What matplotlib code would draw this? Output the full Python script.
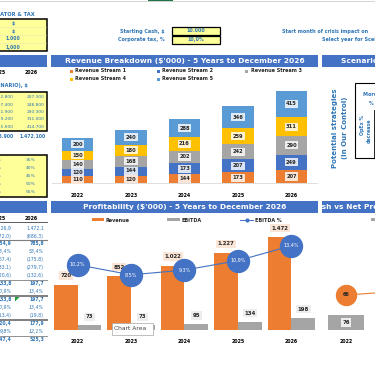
import numpy as np
import matplotlib.pyplot as plt
from matplotlib.patches import Rectangle, Polygon
from matplotlib.lines import Line2D

# ---- data ----
years = ['2022', '2023', '2024', '2025', '2026']
stream_names = ['Revenue Stream 1', 'Revenue Stream 2', 'Revenue Stream 3',
                'Revenue Stream 4', 'Revenue Stream 5']
stream1 = [110, 120, 144, 173, 207]
stream2 = [120, 144, 173, 207, 249]
stream3 = [140, 168, 202, 242, 290]
stream4 = [150, 180, 216, 259, 311]
stream5 = [200, 240, 288, 346, 415]

revenue = [720, 852, 1022, 1227, 1472]
revenue_lbl = ['720', '852', '1.022', '1.227', '1.472']
ebitda = [73, 73, 95, 134, 198]
ebitda_pct = [10.2, 8.5, 9.3, 10.9, 13.4]

cash_years = ['2022', '2023']
net_profit = [76]
cash = [66, 73]  # 2nd point is off-screen, only the line to it shows

rev_2025 = ['172.800', '207.400', '241.900', '259.200', '345.600']
rev_2026 = ['207.300', '248.800', '290.300', '311.000', '414.700']
rev_tot = ['1.226.900', '1.472.100']
pct_2025 = ['30%', '35%', '40%', '45%', '50%']
pct_2026 = ['35%', '40%', '45%', '50%', '55%']

pl_2025 = ['1.226,9', '(572,0)', '654,9', '53,4%', '(167,4)', '(233,1)', '(120,6)',
           '133,8', '10,9%', '133,8', '10,9%', '(13,4)', '120,4', '9,8%', '347,4']
pl_2026 = ['1.472,1', '(686,3)', '785,8', '53,4%', '(175,8)', '(279,7)', '(132,6)',
           '197,7', '13,4%', '197,7', '13,4%', '(19,8)', '177,9', '12,1%', '525,3']
pl_style = ['n', 'n', 'b', 'i', 'n', 'n', 'n', 'b', 'i', 'b', 'i', 'n', 'b', 'i', 'b']

# ---- colours ----
ORANGE, BLUE, GRAY, GOLD, LBLUE = '#ED7D31', '#4472C4', '#A5A5A5', '#FFC000', '#5B9BD5'
LBL_BG = ['#FBE5D6', '#DAE3F3', '#EDEDED', '#FFF2CC', '#DEEBF7']
HEAD = '#4472C4'
TXT = '#2E75B6'
YEL = '#FFFF99'
DARK = '#262626'

W, H = 375, 366
fig = plt.figure(figsize=(W / 100, H / 100), dpi=100)


def fx(x):
    return x / W


def fy(y):
    return 1 - y / H


def text(x, y, s, ha='left', size=3.5, color=TXT, weight='bold', style='normal', **kw):
    return fig.text(fx(x), fy(y), s, ha=ha, va='center', fontsize=size, color=color,
                    fontweight=weight, fontstyle=style, **kw)


def rect(x0, y0, x1, y1, fc, ec='none', lw=0, z=1):
    fig.add_artist(Rectangle((fx(x0), fy(y1)), (x1 - x0) / W, (y1 - y0) / H,
                             transform=fig.transFigure, fc=fc, ec=ec, lw=lw, zorder=z))


def line(x0, x1, y0, y1, color, lw, z=2):
    fig.add_artist(Line2D([fx(x0), fx(x1)], [fy(y0), fy(y1)], transform=fig.transFigure,
                          color=color, lw=lw, zorder=z))


def title_bar(x0, x1, y0, y1, s='', tx=None, ha='center'):
    ax = fig.add_axes([fx(x0), fy(y1), (x1 - x0) / W, (y1 - y0) / H])
    ax.set_facecolor(HEAD)
    ax.set_xticks([])
    ax.set_yticks([])
    for sp in ax.spines.values():
        sp.set_visible(False)
    if s:
        ax.text((tx - x0) / (x1 - x0), 0.5, s, transform=ax.transAxes, ha=ha, va='center',
                color='white', fontsize=5.4, fontweight='bold', clip_on=True)


def clean(ax):
    for sp in ax.spines.values():
        sp.set_visible(False)
    ax.set_yticks([])
    ax.patch.set_visible(False)


# ---- top strip ----
line(0, 375, 1, 1, '#D4D4D4', 0.7)
rect(148, 0, 173, 1.6, '#217346')
text(35, 14, 'INDICATOR & TAX', ha='right', size=3.7)
rect(-2, 19, 47, 51, YEL, 'black', 1.1)
for yy in [27, 35, 43]:
    line(0, 46, yy, yy, '#E6E6B8', 0.4)
for yy, s in zip([23, 31, 39, 47], ['$', '$', '1.000', '1,000']):
    text(13, yy, s, ha='center', size=3.3)
text(165, 31, 'Starting Cash, $', ha='right')
text(165, 39, 'Corporate tax, %', ha='right')
rect(172, 27, 220, 35, YEL, 'black', 0.9)
rect(172, 36, 220, 44, YEL, 'black', 0.9)
text(196, 31, '10.000', ha='center', size=3.4)
text(196, 40, '10,0%', ha='center', size=3.4)
text(282, 31, 'Start month of crisis impact on', size=3.5)
text(322, 39, 'Select year for Scenario', size=3.5)

# ---- title bars ----
title_bar(0, 47, 55, 67)
title_bar(51, 318, 55, 67, "Revenue Breakdown ($'000) - 5 Years to December 2026", 184.5)
title_bar(322, 375, 55, 67, 'Scenario Analysis', 341, ha='left')
title_bar(0, 47, 201, 213)
title_bar(51, 318, 201, 213, "Profitability ($'000) - 5 Years to December 2026", 184.5)
title_bar(322, 375, 201, 213, "Cash vs Net Profit ($'000)", 311, ha='left')

# ---- left: revenue table ----
text(6, 72, '2025', ha='right', size=3.4, color='black')
text(38, 72, '2026', ha='right', size=3.4, color='black')
text(28, 85, 'REVENUE (BASE SCENARIO), $', ha='right', size=3.6)
rect(-2, 92, 47, 131, YEL, 'black', 1.1)
rev_rows = [97, 104.5, 112, 119.5, 127]
for yy, a, b in zip(rev_rows, rev_2025, rev_2026):
    text(13.5, yy, a, ha='right', size=3.2, weight='normal')
    text(45, yy, b, ha='right', size=3.2, weight='normal')
text(14, 136, rev_tot[0], ha='right', size=3.3)
text(46, 136, rev_tot[1], ha='right', size=3.3)
rect(-2, 155, 47, 197, YEL, 'black', 1.1)
pct_rows = [160, 168, 176, 184, 192]
for yy, a, b in zip(pct_rows, pct_2025, pct_2026):
    text(-3, yy, a, ha='center', size=3.2, weight='normal')
    text(31, yy, b, ha='center', size=3.2, weight='normal')

# ---- left: P&L table ----
text(6, 218, '2025', ha='right', size=3.4, color='black')
text(38, 218, '2026', ha='right', size=3.4, color='black')
line(0, 47, 222.5, 222.5, '#404040', 0.6)
for i, (a, b, st) in enumerate(zip(pl_2025, pl_2026, pl_style)):
    yy = 228 + 8 * i
    w = 'bold' if st == 'b' else 'normal'
    fs = 'italic' if st == 'i' else 'normal'
    text(11.5, yy, a, ha='right', size=3.3, weight=w, style=fs)
    text(44, yy, b, ha='right', size=3.3, weight=w, style=fs)
line(0, 47, 240, 240, '#7F7F7F', 0.8)
line(0, 47, 280, 280, '#7F7F7F', 0.6)
line(0, 47, 296, 296, '#7F7F7F', 1.4)
line(0, 47, 320, 320, '#7F7F7F', 1.4)
line(0, 47, 336, 336, '#7F7F7F', 0.6)
fig.add_artist(Polygon([[fx(15), fy(297)], [fx(19.5), fy(297)], [fx(15), fy(301.5)]],
                       closed=True, transform=fig.transFigure, fc='#1E9E3E', ec='none', zorder=3))

# ---- revenue breakdown chart ----
x = np.arange(len(years))
streams = [stream1, stream2, stream3, stream4, stream5]
colors = [ORANGE, BLUE, GRAY, GOLD, LBLUE]
ax1 = fig.add_axes([fx(52), fy(183), 265 / W, 103 / H])
ax1.set_xlim(-0.477, 4.477)
ax1.set_ylim(0, 1648)
bottom = np.zeros(len(years))
for vals, c, lc in zip(streams, colors, LBL_BG):
    ax1.bar(x, vals, 0.58, bottom=bottom, color=c, zorder=2)
    for xi, b, v in zip(x, bottom, vals):
        ax1.text(xi, b + v / 2, str(v), ha='center', va='center', fontsize=3.7,
                 fontweight='bold', color=DARK, zorder=3,
                 bbox=dict(boxstyle='square,pad=0.3', fc=lc, ec='none'))
    bottom += vals
clean(ax1)
ax1.spines['bottom'].set_visible(True)
ax1.spines['bottom'].set_color('#D9D9D9')
ax1.spines['bottom'].set_linewidth(0.6)
ax1.set_xticks(x, years)
ax1.tick_params(axis='x', length=0, pad=7.4, labelsize=3.4)
for lab in ax1.get_xticklabels():
    lab.set_fontweight('bold')

# revenue legend
leg_pos = [(71, 71), (158, 71), (247, 71), (71, 79), (158, 79)]
for (lx, ly), name, c in zip(leg_pos, stream_names, colors):
    rect(lx - 1.5, ly - 1.5, lx + 1.5, ly + 1.5, c)
    text(lx + 4, ly, name, size=3.5, color=DARK)

# ---- profitability chart ----
ax2 = fig.add_axes([fx(52), fy(330), 265 / W, 105 / H])
ax2.set_xlim(-0.477, 4.477)
ax2.set_ylim(0, 1667)
ax2.bar(x - 0.22, revenue, 0.44, color=ORANGE, zorder=2)
ax2.bar(x + 0.22, ebitda, 0.44, color=GRAY, zorder=2)
for xi, v, s in zip(x, revenue, revenue_lbl):
    ax2.annotate(s, (xi - 0.22, v), xytext=(0, 6.5), textcoords='offset points',
                 ha='center', va='center', fontsize=3.9, fontweight='bold', color=DARK,
                 bbox=dict(boxstyle='square,pad=0.3', fc='#FBE5D6', ec='none'), zorder=3)
for xi, v in zip(x, ebitda):
    ax2.annotate(str(v), (xi + 0.22, v), xytext=(0, 6.1), textcoords='offset points',
                 ha='center', va='center', fontsize=3.9, fontweight='bold', color=DARK,
                 bbox=dict(boxstyle='square,pad=0.3', fc='#EDEDED', ec='none'), zorder=3)
clean(ax2)
ax2.set_xticks(x, years)
ax2.tick_params(axis='x', length=0, pad=6.7, labelsize=3.4)
for lab in ax2.get_xticklabels():
    lab.set_fontweight('bold')
ax2b = ax2.twinx()
ax2b.set_ylim(-0.8, 16.9)
ax2b.plot(x, ebitda_pct, color=BLUE, lw=0.8, marker='o', ms=15.8, mfc=BLUE, mec=BLUE, zorder=4)
for xi, p in zip(x, ebitda_pct):
    ax2b.text(xi, p, f'{p:.1f}'.replace('.', ',') + '%', ha='center', va='center',
              fontsize=3.5, color='white', zorder=5)
clean(ax2b)

# profitability legend
rect(92, 218.5, 104, 221.5, ORANGE)
text(106, 220, 'Revenue', size=3.5, color=DARK)
rect(167, 218.5, 180, 221.5, GRAY)
text(182, 220, 'EBITDA', size=3.5, color=DARK)
line(240, 253, 220, 220, BLUE, 0.7)
fig.add_artist(Line2D([fx(246.5)], [fy(220)], transform=fig.transFigure, marker='o',
                      ms=2, color=BLUE, zorder=3))
text(255, 220, 'EBITDA %', size=3.5, color=DARK)

# ---- cash vs net profit chart ----
cx = np.arange(len(cash_years))
ax3 = fig.add_axes([fx(322), fy(330), 107 / W, 105 / H])
ax3.set_xlim(-0.449, 1.551)
ax3.set_ylim(0, 532)
ax3.bar(cx[:len(net_profit)], net_profit, 0.69, color=GRAY, zorder=2)
for xi, v in zip(cx, net_profit):
    ax3.text(xi, v / 2, str(v), ha='center', va='center', fontsize=3.9, fontweight='bold',
             color=DARK, bbox=dict(boxstyle='square,pad=0.3', fc='#EDEDED', ec='none'), zorder=3)
clean(ax3)
ax3.set_xticks(cx, cash_years)
ax3.tick_params(axis='x', length=0, pad=6.7, labelsize=3.4)
for lab in ax3.get_xticklabels():
    lab.set_fontweight('bold')
ax3b = ax3.twinx()
ax3b.set_ylim(0, 198)
ax3b.plot(cx, cash, color=ORANGE, lw=0.8, marker='o', ms=14.4, mfc=ORANGE, mec=ORANGE, zorder=4)
for xi, v in zip(cx, cash):
    ax3b.text(xi, v, str(v), ha='center', va='center', fontsize=3.6, fontweight='bold',
              color=DARK, zorder=5)
clean(ax3b)
rect(371, 218.5, 376, 221.5, GRAY)

# ---- scenario panel ----
text(334.5, 128, 'Potential strategies', ha='center', size=5.0, rotation=90)
text(344.5, 128, '(In Our Control)', ha='center', size=5.0, rotation=90)
rect(355, 83, 390, 158, 'white', 'black', 0.8)
text(363, 95, 'More revenue', size=3.5)
text(369, 103, '%  change', size=3.4)
text(362.5, 125, 'OpEx %', ha='center', size=3.4, rotation=90)
text(369, 131, 'decrease', ha='center', size=3.4, rotation=90)
line(374, 374, 110, 157, 'black', 0.6)

# ---- "Chart Area" tooltip ----
rect(112, 323, 153, 335, 'white', '#A6A6A6', 0.5, z=10)
fig.text(fx(114), fy(329), 'Chart Area', ha='left', va='center', fontsize=4.3,
         color='#404040', zorder=11)

fig.savefig('out.png', dpi=100)
